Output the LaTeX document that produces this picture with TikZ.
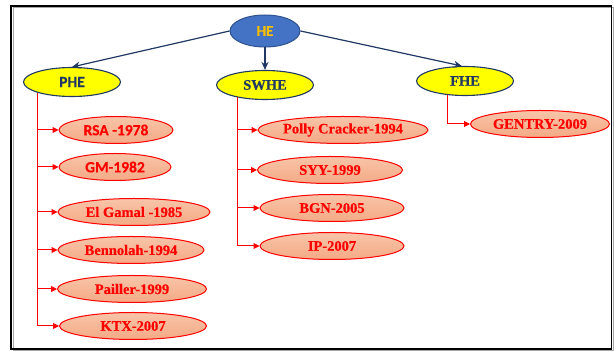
\documentclass[tikz,border=0pt]{standalone}
\usepackage{fontspec}
\newfontfamily\carl[FakeBold=0.4]{Carlito}
\newfontfamily\tms[FakeBold=0.4]{Liberation Serif}
\usetikzlibrary{shapes.geometric,arrows.meta,calc}
\definecolor{heblue}{HTML}{4472C4}
\definecolor{heborder}{HTML}{2F528F}
\definecolor{hegold}{HTML}{FFC000}
\definecolor{navyc}{HTML}{1F3864}
\definecolor{yel}{HTML}{FFFF00}
\definecolor{redc}{HTML}{FF0000}
\definecolor{salmtop}{HTML}{F8C4A8}
\definecolor{salmbot}{HTML}{F4AA86}
\begin{document}
\begin{tikzpicture}[x=1pt,y=-1pt,
  topnode/.style={ellipse, draw=heborder, fill=heblue, line width=1pt, minimum width=70pt, minimum height=32pt, inner sep=0pt, text=hegold, font=\carl\bfseries\fontsize{15}{15}\selectfont},
  catnode/.style={ellipse, draw=navyc, fill=yel, line width=1.1pt, minimum width=97pt, minimum height=29pt, inner sep=0pt, text=navyc},
  leafnode/.style={ellipse, draw=redc, top color=salmtop, bottom color=salmbot, line width=1pt, minimum height=27pt, inner sep=0pt, text=redc},
  sansf/.style={font=\carl\bfseries\fontsize{15.5}{16}\selectfont},
  serf/.style={font=\tms\bfseries\fontsize{14.5}{15}\selectfont},
  navyarrow/.style={draw=navyc, line width=1.2pt, -{Stealth[length=8pt,width=7pt]}},
  redline/.style={draw=redc, line width=1pt},
  redarrow/.style={draw=redc, line width=1pt, -{Triangle[length=6pt,width=6pt]}}
]
\useasboundingbox (0,0) rectangle (614,352);
% frame
\draw[gray!70, line width=1pt] (13,8) rectangle (613.5,351);
\draw[black, line width=1.4pt] (11,6) rectangle (611.5,349);

% nodes
\node[topnode] (HE) at (265,31) {HE};
\node[catnode, sansf] (PHE) at (72,82) {PHE};
\node[catnode, serf] (SWHE) at (265,85) {SWHE};
\node[catnode, serf] (FHE) at (465,81) {FHE};

\node[leafnode, sansf, minimum width=114pt] (RSA) at (116,130) {RSA -1978};
\node[leafnode, sansf, minimum width=112pt] (GM) at (115,167) {GM-1982};
\node[leafnode, serf, minimum width=152pt] (ELG) at (134,212) {El Gamal -1985};
\node[leafnode, serf, minimum width=146pt] (BEN) at (131,250) {Bennolah-1994};
\node[leafnode, serf, minimum width=149pt] (PAI) at (132,289) {Pailler-1999};
\node[leafnode, serf, minimum width=147pt] (KTX) at (133,326) {KTX-2007};

\node[leafnode, serf, minimum width=170pt] (POL) at (343,130) {Polly Cracker-1994};
\node[leafnode, serf, minimum width=145pt] (SYY) at (330,170) {SYY-1999};
\node[leafnode, serf, minimum width=144pt] (BGN) at (332,208) {BGN-2005};
\node[leafnode, serf, minimum width=144pt] (IP) at (332,246) {IP-2007};

\node[leafnode, serf, minimum width=139pt] (GEN) at (540,124) {GENTRY-2009};

% top arrows
\draw[navyarrow] (HE.west) -- (PHE.north);
\draw[navyarrow] (HE.south) -- (SWHE.north);
\draw[navyarrow] (HE.east) -- (FHE.102);

% PHE branch
\draw[redline] (PHE.197) -- (PHE.197 |- KTX.west);
\foreach \n in {RSA,GM,ELG,BEN,PAI,KTX}
  \draw[redarrow] (PHE.197 |- \n.west) -- (\n.west);

% SWHE branch
\draw[redline] (SWHE.204) -- (SWHE.204 |- IP.west);
\foreach \n in {POL,SYY,BGN,IP}
  \draw[redarrow] (SWHE.204 |- \n.west) -- (\n.west);

% FHE branch
\draw[redarrow] (FHE.219) |- (GEN.west);
\end{tikzpicture}
\end{document}
